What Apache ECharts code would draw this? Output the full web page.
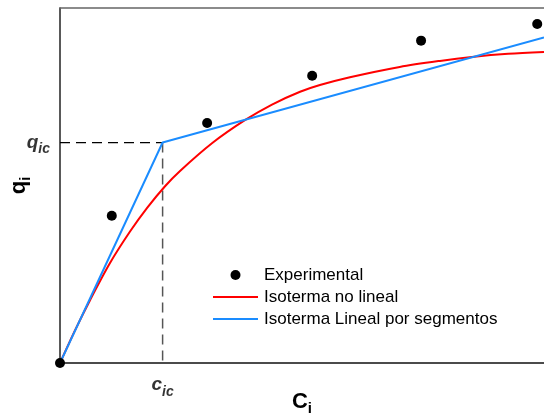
<!DOCTYPE html>
<html>
<head>
<meta charset="utf-8">
<script src="https://cdn.jsdelivr.net/npm/echarts@6/dist/echarts.min.js"></script>
<style>
html,body{margin:0;padding:0;background:#fff;}
#chart{width:544px;height:416px;}
</style>
</head>
<body>
<div id="chart"></div>
<script>
// Experimental points (C_i, q_i)
var experimental = [[0, 0], [1.07, 4.15], [3.04, 6.76], [5.21, 8.09], [7.46, 9.08], [9.86, 9.55]];
// Non-linear isotherm
var noLineal = [[0, 0], [0.31, 0.92], [0.62, 1.77], [1.03, 2.81], [1.45, 3.71], [1.80, 4.37],
  [2.17, 4.98], [2.48, 5.41], [3.14, 6.19], [3.82, 6.84], [4.38, 7.28], [4.96, 7.64], [5.37, 7.83],
  [5.99, 8.05], [7.02, 8.34], [7.85, 8.51], [8.51, 8.62], [9.26, 8.71], [10.0, 8.76]];
// Piecewise linear isotherm
var cic = 2.12, qic = 6.21;
var segmentos = [[0, 0], [cic, qic], [10, 9.17]];
var seriesNames = ['Experimental', 'Isoterma no lineal', 'Isoterma Lineal por segmentos'];

var FONT = '"Liberation Sans", Arial, sans-serif';
var richSub = function (size, italic) {
  return {
    a: {fontFamily: FONT, fontSize: size, fontWeight: 'bold', fontStyle: italic ? 'italic' : 'normal', color: '#000', lineHeight: 28, verticalAlign: 'middle'},
    b: {fontFamily: FONT, fontSize: italic ? 14 : 15, fontWeight: 'bold', fontStyle: italic ? 'italic' : 'normal', color: '#000', lineHeight: 12, verticalAlign: 'bottom'}
  };
};
var chart = echarts.init(document.getElementById('chart'), null, {renderer: 'canvas'});
chart.setOption({
  animation: false,
  backgroundColor: '#fff',
  grid: {left: 60, top: 8, right: 0, bottom: 53, outerBoundsMode: 'none', containLabel: false},
  xAxis: [{
    type: 'value', min: 0, max: 10, position: 'bottom',
    axisLine: {show: true, lineStyle: {color: '#111', width: 1.5}},
    axisTick: {show: false}, axisLabel: {show: false}, splitLine: {show: false},
    name: '{a|C}{b|i}', nameLocation: 'middle', nameGap: 25,
    nameTextStyle: {rich: richSub(22, false)}
  }, {
    type: 'value', min: 0, max: 10, position: 'top',
    axisLine: {show: true, lineStyle: {color: '#666', width: 1.5}},
    axisTick: {show: false}, axisLabel: {show: false}, splitLine: {show: false}
  }],
  yAxis: {
    type: 'value', min: 0, max: 10,
    axisLine: {show: true, lineStyle: {color: '#222', width: 1.5}},
    axisTick: {show: false}, axisLabel: {show: false}, splitLine: {show: false},
    name: '{a|q}{b|i}', nameLocation: 'middle', nameGap: 27, nameRotate: 90,
    nameTextStyle: {rich: richSub(22, false)}
  },
  legend: {
    orient: 'vertical', left: 207, top: 260,
    itemWidth: 45, itemHeight: 10, itemGap: 2,
    textStyle: {fontFamily: FONT, fontSize: 17, color: '#000', lineHeight: 20, padding: [0, 0, 0, 1]},
    data: [
      {name: seriesNames[0], icon: 'circle'},
      {name: seriesNames[1], itemStyle: {opacity: 0}},
      {name: seriesNames[2], itemStyle: {opacity: 0}}
    ]
  },
  series: [
    {
      type: 'line', silent: true, symbol: 'none',
      data: [[0, qic], [cic, qic]],
      lineStyle: {color: '#000', width: 1.3, type: [10, 6]}, z: 1
    },
    {
      type: 'line', silent: true, symbol: 'none',
      data: [[cic, qic], [cic, 0]],
      lineStyle: {color: '#555', width: 1.5, type: [10, 6]}, z: 1
    },
    {
      type: 'scatter', silent: true, symbolSize: 0.1, clip: false,
      itemStyle: {color: 'rgba(0,0,0,0)'}, z: 6,
      data: [
        {value: [0, qic], label: {show: true, position: 'left', distance: 10, formatter: '{a|q}{b|ic}', rich: richSub(19, true)}},
        {value: [cic, 0], label: {show: true, position: 'bottom', distance: 8, formatter: '{a|c}{b|ic}', rich: richSub(19, true)}}
      ]
    },
    {
      name: seriesNames[1], type: 'line', smooth: 0.3, symbol: 'none',
      data: noLineal, lineStyle: {color: '#ff0000', width: 2}, itemStyle: {color: '#ff0000'}, z: 2
    },
    {
      name: seriesNames[2], type: 'line', symbol: 'none',
      data: segmentos, lineStyle: {color: '#1a8cff', width: 2}, itemStyle: {color: '#1a8cff'}, z: 3
    },
    {
      name: seriesNames[0], type: 'scatter', symbol: 'circle', symbolSize: 10,
      data: experimental, itemStyle: {color: '#000', opacity: 1}, z: 5, clip: false
    }
  ]
});
</script>
</body>
</html>
